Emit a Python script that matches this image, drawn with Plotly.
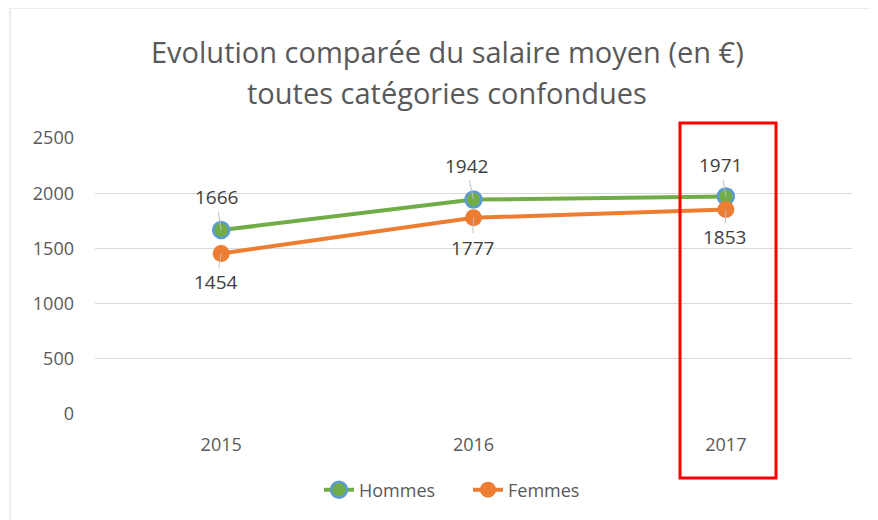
import plotly.graph_objects as go

years = ["2015", "2016", "2017"]
hommes = [1666, 1942, 1971]
femmes = [1454, 1777, 1853]
title_lines = ["Evolution comparée du salaire moyen (en €)", "toutes catégories confondues"]

FONT = "Open Sans"
OFF = 8  # page body margin
W, H = 878 - OFF, 520 - OFF
# plot area in window pixels
L, R, T, B = 95, 852, 138, 414

def px_x(p):
    return (p - L) / (R - L)

def px_y(p):
    return (B - p) / (B - T)

fig = go.Figure()
fig.add_trace(go.Scatter(
    x=years, y=hommes, name="Hommes", mode="lines+markers",
    line=dict(color="#70ad47", width=4),
    marker=dict(size=16, color="#70ad47", line=dict(color="#5b9bd5", width=2.5)),
))
fig.add_trace(go.Scatter(
    x=years, y=femmes, name="Femmes", mode="lines+markers",
    line=dict(color="#ed7d31", width=4),
    marker=dict(size=17, color="#ed7d31", line=dict(color="#ed7d31", width=0)),
))

annotations = []
h_off = [(-5, -33), (-7, -34), (-5, -31)]
f_off = [(-5, 29), (-1, 30), (-1, 28)]
for i, (v, (ax, ay)) in enumerate(zip(hommes, h_off)):
    annotations.append(dict(x=i, y=v, xref="x", yref="y", text=str(v), showarrow=True,
                            arrowhead=0, arrowwidth=1, arrowcolor="#bfbfbf", ax=ax, ay=ay,
                            font=dict(family=FONT, size=19, color="#404040")))
for i, (v, (ax, ay)) in enumerate(zip(femmes, f_off)):
    annotations.append(dict(x=i, y=v, xref="x", yref="y", text=str(v), showarrow=True,
                            arrowhead=0, arrowwidth=1, arrowcolor="#bfbfbf", ax=ax, ay=ay,
                            font=dict(family=FONT, size=19, color="#404040")))
for txt, py in zip(title_lines, [52, 93]):
    annotations.append(dict(x=px_x(447), y=px_y(py), xref="paper", yref="paper",
                            text=txt, showarrow=False, xanchor="center", yanchor="middle",
                            font=dict(family=FONT, size=29, color="#595959")))

shapes = [
    dict(type="rect", xref="paper", yref="paper",
         x0=px_x(10), x1=px_x(876.5), y0=px_y(540), y1=px_y(8),
         line=dict(color="#d9d9d9", width=1), layer="below"),
    dict(type="rect", xref="paper", yref="paper",
         x0=px_x(680), x1=px_x(776), y0=px_y(478), y1=px_y(123),
         line=dict(color="#ff0000", width=3)),
]

fig.update_layout(
    width=W, height=H,
    margin=dict(l=L - OFF, r=878 - R, t=T - OFF, b=520 - B),
    paper_bgcolor="white", plot_bgcolor="white",
    font=dict(family=FONT, size=16, color="#595959"),
    showlegend=True,
    legend=dict(orientation="h", x=px_x(468), xanchor="center", y=px_y(490), yanchor="middle",
                entrywidth=104, entrywidthmode="pixels",
                font=dict(family=FONT, size=18, color="#595959")),
    xaxis=dict(type="category", range=[-0.5, 2.5], showgrid=False, showline=False,
               zeroline=False, ticks="", tickfont=dict(size=18, color="#595959"),
               ticklabelstandoff=18),
    yaxis=dict(range=[0, 2500], dtick=500, showgrid=True, gridcolor="#d9d9d9", gridwidth=1,
               zeroline=False, showline=False, ticks="",
               tickfont=dict(size=18, color="#595959"), ticklabelstandoff=20),
    annotations=annotations,
    shapes=shapes,
)

fig.write_html("out.html")
